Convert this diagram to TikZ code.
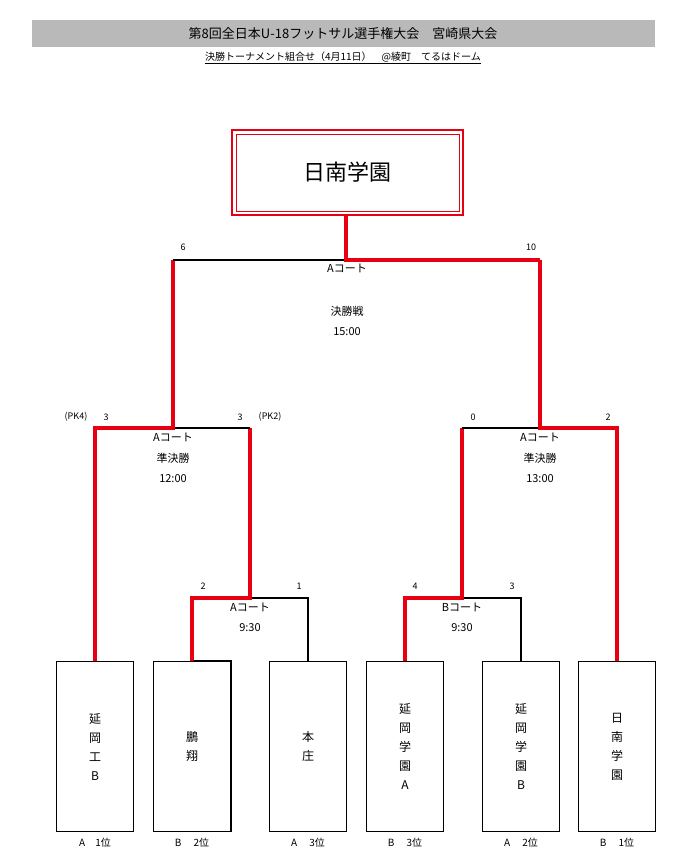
\documentclass[tikz,border=0pt]{standalone}
\usepackage{fontspec}
\setmainfont{Noto Sans CJK JP}
\begin{document}
\begin{tikzpicture}[x=1pt,y=-1pt,
  red line/.style={draw={rgb,255:red,230;green,0;blue,18},line width=3.6pt},
  blk line/.style={draw=black,line width=1.6pt},
  team/.style={draw=black,line width=1.1pt,minimum width=77pt,minimum height=170pt,anchor=north,inner sep=0pt,align=center,font=\fontsize{12}{19}\selectfont},
  lbl/.style={font=\fontsize{11}{13}\selectfont,inner sep=0pt},
  sc/.style={font=\fontsize{9}{11}\selectfont,inner sep=0pt}]
\useasboundingbox (0,0) rectangle (677,865);
\fill[gray!55] (32,20) rectangle (655,47);
\node[font=\fontsize{13}{15}\selectfont] (title) at (343,34) {第8回全日本U-18フットサル選手権大会　宮崎県大会};
\node[font=\fontsize{10}{12}\selectfont] (sub) at (343,58) {\underline{決勝トーナメント組合せ（4月11日）　@綾町　てるはドーム}};
% winner box
\draw[draw={rgb,255:red,230;green,0;blue,18},line width=2.6pt] (232,130) rectangle (463,215);
\draw[draw={rgb,255:red,230;green,0;blue,18},line width=0.7pt] (236,134) rectangle (459,211);
\node[font=\fontsize{22}{24}\selectfont] (win) at (347,172) {日南学園};
\coordinate (wb) at (346,215);
% teams
\node[team] (t1) at (95,661) {延\\岡\\工\\B};
\node[team] (t2) at (192,661) {鵬\\翔};
\node[team] (t3) at (308,661) {本\\庄};
\node[team] (t4) at (405,661) {延\\岡\\学\\園\\A};
\node[team] (t5) at (521,661) {延\\岡\\学\\園\\B};
\node[team] (t6) at (617,661) {日\\南\\学\\園};
\foreach \n/\t in {t1/A　1位,t2/B　 2位,t3/A　 3位,t4/B　 3位,t5/A　 2位,t6/B　 1位}
  \node[lbl,font=\fontsize{10}{12}\selectfont] at ([yshift=-11pt]\n.south) {\t};
% QF1
\draw[blk line] (250,598) -- (308,598) -- (t3.north);
\draw[blk line] (t2.north) -- (t2.north east) -- (t2.south east);
\draw[red line] (t2.north) -- (192,598) -- (250,598) -- (250,428);
% QF2
\draw[blk line] (462,598) -- (521,598) -- (t5.north);
\draw[red line] (t4.north) -- (405,598) -- (462,598) -- (462,428);
% SF1
\draw[blk line] (173,428) -- (250,428);
\draw[red line] (t1.north) -- (95,428) -- (173,428) -- (173,260);
% SF2
\draw[blk line] (462,428) -- (540,428);
\draw[red line] (t6.north) -- (617,428) -- (540,428) -- (540,260);
% Final
\draw[blk line] (173,260) -- (346,260);
\draw[red line] (wb) -- (346,260) -- (540,260);
% labels
\node[lbl] at (347,268) {Aコート};
\node[lbl] at (347,311) {決勝戦};
\node[lbl] at (347,332) {15:00};
\node[lbl] at (173,437) {Aコート};
\node[lbl] at (173,458) {準決勝};
\node[lbl] at (173,479) {12:00};
\node[lbl] at (540,437) {Aコート};
\node[lbl] at (540,458) {準決勝};
\node[lbl] at (540,479) {13:00};
\node[lbl] at (250,607) {Aコート};
\node[lbl] at (250,628) {9:30};
\node[lbl] at (462,607) {Bコート};
\node[lbl] at (462,628) {9:30};
% scores
\node[sc] at (183,247) {6};
\node[sc] at (531,247) {10};
\node[sc] at (76,417) {(PK4)};
\node[sc] at (106,417) {3};
\node[sc] at (240,417) {3};
\node[sc] at (270,417) {(PK2)};
\node[sc] at (473,417) {0};
\node[sc] at (608,417) {2};
\node[sc] at (203,586) {2};
\node[sc] at (299,586) {1};
\node[sc] at (415,586) {4};
\node[sc] at (512,586) {3};
\end{tikzpicture}
\end{document}
